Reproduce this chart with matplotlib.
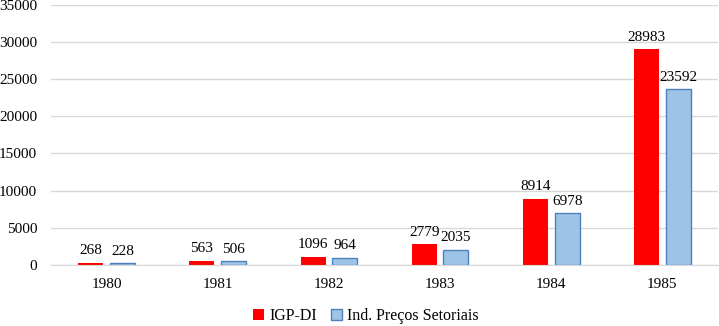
import numpy as np
from matplotlib import pyplot as plt

plt.rcParams['font.family'] = ['Liberation Serif', 'DejaVu Serif']

# data
years = ['1980', '1981', '1982', '1983', '1984', '1985']
igp_di = [268, 563, 1096, 2779, 8914, 28983]
ind_precos = [228, 506, 964, 2035, 6978, 23592]

fig = plt.figure(figsize=(7.19, 3.26), dpi=100)
ax = fig.add_axes([51 / 719, 61 / 326, 667 / 719, 260.5 / 326])

x = np.arange(len(years))
w = 0.225
off = 0.143

b1 = ax.bar(x - off, igp_di, w, color='#ff0000', label='IGP-DI', zorder=3)
b2 = ax.bar(x + off, ind_precos, w, color='#9dc3e6', edgecolor='#4f81bd',
            linewidth=1, label='Ind. Preços Setoriais', zorder=3)

for bars in (b1, b2):
    for r in bars:
        ax.annotate(f'{int(r.get_height())}', (r.get_x() + r.get_width() / 2, r.get_height()),
                    xytext=(0, 4), textcoords='offset points', ha='center', va='bottom',
                    fontsize=11)

ax.set_xlim(-0.5, len(years) - 0.5)
ax.set_ylim(0, 35000)
ax.set_yticks(np.arange(0, 35001, 5000))
ax.set_xticks(x)
ax.set_xticklabels(years)
ax.tick_params(axis='both', length=0, labelsize=11)
ax.tick_params(axis='x', pad=9)
ax.tick_params(axis='y', pad=10)
ax.grid(axis='y', color='#d9d9d9', linewidth=1, zorder=0)
for s in ['top', 'right', 'left']:
    ax.spines[s].set_visible(False)
ax.spines['bottom'].set_color('#d9d9d9')
ax.spines['bottom'].set_zorder(4)

fig.legend(handles=[b1, b2], loc='center', bbox_to_anchor=(366 / 719, 1 - 316 / 326),
           ncol=2, frameon=False, fontsize=11.5, handlelength=0.7, handleheight=0.7,
           handletextpad=0.3, columnspacing=0.9)

plt.savefig('out.png', dpi=100)
